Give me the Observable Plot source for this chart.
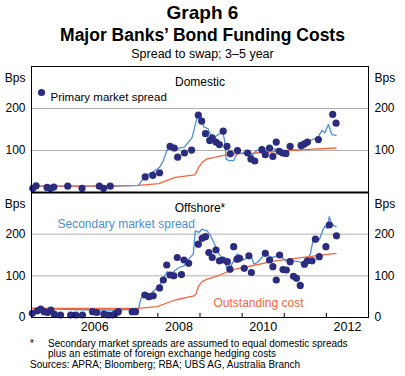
<!DOCTYPE html>
<html><head><meta charset="utf-8">
<script src="https://cdn.jsdelivr.net/npm/d3@7"></script>
<script src="https://cdn.jsdelivr.net/npm/@observablehq/plot@0.6"></script>
<style>
body{margin:0;background:#fff;font-family:"Liberation Sans",Arial,sans-serif;color:#000;}
#wrap{position:relative;width:405px;height:376px;overflow:hidden;background:#fff;}
.t{position:absolute;left:0;width:405px;text-align:center;white-space:nowrap;}
.f{position:absolute;white-space:nowrap;font-size:10px;line-height:10px;}
#top,#bot{position:absolute;left:0;}
#top{top:60px;} #bot{top:186px;}
svg{overflow:visible;}
</style></head>
<body><div id="wrap">
<div class="t" style="top:3px;font-size:19px;line-height:19px;font-weight:bold;">Graph 6</div>
<div class="t" style="top:27px;font-size:17.5px;line-height:17.5px;font-weight:bold;">Major Banks’ Bond Funding Costs</div>
<div class="t" style="top:47.5px;font-size:12.5px;line-height:12.5px;">Spread to swap; 3–5 year</div>
<div id="top"></div>
<div id="bot"></div>
<div class="f" style="left:30px;top:338.5px;">*</div>
<div class="f" style="left:48px;top:338.5px;">Secondary market spreads are assumed to equal domestic spreads</div>
<div class="f" style="left:48px;top:348.5px;">plus an estimate of foreign exchange hedging costs</div>
<div class="f" style="left:30px;top:359.5px;">Sources: APRA; Bloomberg; RBA; UBS AG, Australia Branch</div>
</div>
<script>
// ---- data (decimal year, basis points) ----
const domesticPrimary = [[2005.03,10],[2005.11,16],[2005.37,12],[2005.45,10],[2005.53,13],[2005.86,15],[2006.20,10],[2006.61,15],[2006.71,10],[2006.87,15],[2007.70,37],[2007.88,41],[2008.04,47],[2008.29,110],[2008.39,106],[2008.47,84],[2008.63,94],[2008.80,101],[2008.96,184],[2009.04,170],[2009.13,140],[2009.23,124],[2009.29,130],[2009.38,120],[2009.46,114],[2009.55,146],[2009.64,110],[2009.72,92],[2009.89,100],[2010.13,94],[2010.21,80],[2010.30,75],[2010.47,102],[2010.55,90],[2010.65,106],[2010.73,86],[2010.81,120],[2010.88,98],[2010.96,94],[2011.04,93],[2011.14,110],[2011.40,112],[2011.48,116],[2011.55,120],[2011.81,126],[2012.15,186],[2012.23,165]];
const domesticSecondary = [[2005.0,15],[2006.0,15],[2007.0,15],[2007.54,17],[2007.70,40],[2007.90,50],[2008.04,60],[2008.13,76],[2008.23,104],[2008.32,108],[2008.41,102],[2008.53,106],[2008.63,108],[2008.71,118],[2008.81,130],[2008.92,174],[2009.00,186],[2009.09,156],[2009.19,152],[2009.27,134],[2009.35,132],[2009.44,138],[2009.54,146],[2009.59,120],[2009.62,80],[2009.68,76],[2009.80,76],[2009.88,92],[2010.00,94],[2010.14,98],[2010.24,88],[2010.32,98],[2010.43,104],[2010.55,100],[2010.67,102],[2010.79,104],[2010.91,100],[2011.03,98],[2011.18,102],[2011.34,100],[2011.42,104],[2011.50,108],[2011.62,124],[2011.72,128],[2011.80,132],[2011.90,148],[2011.96,142],[2012.05,162],[2012.13,138],[2012.23,136]];
const domesticOutstanding = [[2005.0,15],[2006.0,15],[2007.0,16],[2007.54,17],[2008.02,21],[2008.41,36],[2008.88,42],[2008.97,60],[2009.05,72],[2009.17,80],[2009.37,84],[2009.53,88],[2009.84,92],[2010.32,94],[2010.87,98],[2011.50,102],[2012.23,106]];
const offshorePrimary = [[2005.02,10],[2005.14,16],[2005.22,20],[2005.30,14],[2005.38,12],[2005.46,18],[2005.54,8],[2005.69,6],[2005.93,6],[2006.05,6],[2006.21,6],[2006.45,14],[2006.55,12],[2006.72,8],[2006.82,6],[2006.92,6],[2007.00,10],[2007.06,14],[2007.39,14],[2007.47,14],[2007.69,54],[2007.79,50],[2007.89,52],[2008.04,71],[2008.13,90],[2008.21,126],[2008.29,102],[2008.38,100],[2008.46,144],[2008.56,103],[2008.62,138],[2008.73,130],[2008.96,176],[2009.05,190],[2009.13,194],[2009.21,156],[2009.29,144],[2009.38,162],[2009.46,136],[2009.54,138],[2009.65,134],[2009.71,116],[2009.80,170],[2009.88,140],[2009.94,142],[2010.05,118],[2010.16,148],[2010.22,108],[2010.55,154],[2010.65,138],[2010.73,122],[2010.81,90],[2010.89,150],[2010.97,115],[2011.05,114],[2011.14,134],[2011.22,99],[2011.29,94],[2011.38,77],[2011.48,128],[2011.55,136],[2011.66,136],[2011.74,188],[2011.83,146],[2011.99,170],[2012.07,222],[2012.24,196]];
const offshoreSecondary = [[2005.0,22],[2005.3,22],[2005.6,20],[2006.0,19],[2006.5,18],[2007.0,18],[2007.54,20],[2007.59,44],[2007.70,60],[2007.82,56],[2007.94,68],[2008.04,76],[2008.14,96],[2008.22,110],[2008.30,104],[2008.40,112],[2008.50,120],[2008.62,124],[2008.73,140],[2008.84,152],[2008.89,208],[2008.97,204],[2009.05,212],[2009.17,208],[2009.25,196],[2009.33,180],[2009.41,160],[2009.51,144],[2009.59,136],[2009.64,118],[2009.72,122],[2009.80,136],[2009.88,152],[2009.96,148],[2010.04,138],[2010.12,144],[2010.20,152],[2010.28,128],[2010.36,132],[2010.47,144],[2010.55,156],[2010.63,148],[2010.71,144],[2010.79,146],[2010.87,154],[2010.95,144],[2011.03,136],[2011.12,140],[2011.22,136],[2011.34,134],[2011.44,130],[2011.53,138],[2011.62,152],[2011.68,184],[2011.75,188],[2011.83,186],[2011.91,208],[2011.97,220],[2012.02,214],[2012.07,242],[2012.12,226],[2012.18,220],[2012.23,218]];
const offshoreOutstanding = [[2005.0,22],[2006.0,22],[2007.0,22],[2007.54,22],[2007.98,26],[2008.41,42],[2008.86,52],[2008.90,56],[2008.97,76],[2009.05,86],[2009.17,92],[2009.37,98],[2009.61,108],[2009.84,116],[2010.32,126],[2010.79,136],[2011.26,142],[2011.74,148],[2012.23,154]];
const yTicksTop = [100, 200];
const yTicksBottom = [0, 100, 200];
const yearTicks = [2006, 2007, 2008, 2009, 2010, 2011, 2012];
const yearLabels = [2006, 2008, 2010, 2012];

const navy = "#2b2c7e", blue = "#4a8fd6", red = "#f2663f";
const common = {
  width: 405, marginLeft: 31, marginRight: 37,
  x: {domain: [2005, 2013], axis: null},
  y: {domain: [0, 300], axis: null},
  style: {fontFamily: "'Liberation Sans', Arial, sans-serif", fontSize: "12px", color: "#000", background: "transparent", overflow: "visible"}
};
const X = d => d[0], Y = d => d[1];

function panel(o) {
  return Plot.plot({
    ...common, height: o.height, marginTop: 6, marginBottom: o.mb,
    marks: [
      Plot.gridY(o.grid, {stroke: "#b0b0b0", strokeOpacity: 1}),
      Plot.axisY(o.ticks, {anchor: "left", tickSize: 0, tickPadding: 6, label: null, fontSize: 12}),
      Plot.axisY(o.ticks, {anchor: "right", tickSize: 0, tickPadding: 6, label: null, fontSize: 12}),
      Plot.text(["Bps"], {text: d => d, frameAnchor: "top-left", dx: -6, dy: 7, textAnchor: "end", fontSize: 12}),
      Plot.text(["Bps"], {text: d => d, frameAnchor: "top-right", dx: 6, dy: 7, textAnchor: "start", fontSize: 12}),
      Plot.text([o.title], {text: d => d, frameAnchor: "top", dy: 10.5, fontSize: 12}),
      Plot.line(o.secondary, {x: X, y: Y, stroke: blue, strokeWidth: 1.3}),
      Plot.line(o.outstanding, {x: X, y: Y, stroke: red, strokeWidth: 1.3}),
      Plot.dot(o.primary, {x: X, y: Y, r: 3.6, fill: navy}),
      ...o.extra,
      Plot.frame({stroke: "#000", strokeWidth: 1})
    ]
  });
}

const topChart = panel({
  height: 132, mb: 0, grid: yTicksTop, ticks: yTicksTop, title: "Domestic",
  primary: domesticPrimary, secondary: domesticSecondary, outstanding: domesticOutstanding,
  extra: [
    Plot.dot([0], {frameAnchor: "top-left", dx: 10, dy: 26, r: 3.6, fill: navy}),
    Plot.text(["Primary market spread"], {text: d => d, frameAnchor: "top-left", dx: 19, dy: 26, textAnchor: "start", fontSize: 11.5})
  ]
});

const botChart = panel({
  height: 153, mb: 22, grid: yTicksTop, ticks: yTicksBottom, title: "Offshore*",
  primary: offshorePrimary, secondary: offshoreSecondary, outstanding: offshoreOutstanding,
  extra: [
    Plot.text(["Secondary market spread"], {text: d => d, frameAnchor: "top-left", dx: 26, dy: 27, textAnchor: "start", fill: blue, fontSize: 12}),
    Plot.text(["Outstanding cost"], {text: d => d, frameAnchor: "top-left", dx: 182, dy: 106, textAnchor: "start", fill: red, fontSize: 12}),
    Plot.ruleX(yearTicks, {x: d => d, y1: 0, y2: 10, stroke: "#000"}),
    Plot.axisX(yearLabels.map(y => y + 0.5), {anchor: "bottom", tickSize: 0, tickPadding: 5, tickFormat: d => String(Math.floor(d)), label: null, fontSize: 12.5}),
    Plot.ruleY([300], {stroke: "#000", strokeWidth: 2})
  ]
});

document.getElementById("top").appendChild(topChart);
document.getElementById("bot").appendChild(botChart);
</script>
</body></html>
